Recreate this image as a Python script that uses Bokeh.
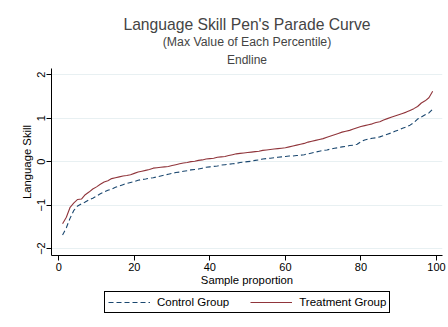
from bokeh.plotting import figure
from bokeh.layouts import column
from bokeh.models import (Title, Legend, LegendItem, FixedTicker, Range1d)
from bokeh.embed import file_html
from bokeh.resources import INLINE

# ---- data ----
percentile = list(range(1, 100))

control = [-1.69, -1.52, -1.30, -1.12, -1.02, -0.97, -0.93, -0.88, -0.84, -0.79,
           -0.74, -0.70, -0.66, -0.63, -0.59, -0.56, -0.53, -0.50, -0.48, -0.46,
           -0.43, -0.41, -0.40, -0.38, -0.37, -0.35, -0.33, -0.31, -0.29, -0.27,
           -0.25, -0.24, -0.22, -0.21, -0.19, -0.18, -0.17, -0.15, -0.13, -0.12,
           -0.11, -0.10, -0.08, -0.07, -0.06, -0.05, -0.04, -0.02, -0.01, 0.00,
           0.01, 0.03, 0.04, 0.06, 0.07, 0.08, 0.09, 0.10, 0.11, 0.12,
           0.13, 0.13, 0.14, 0.15, 0.16, 0.18, 0.20, 0.22, 0.24, 0.26,
           0.27, 0.29, 0.31, 0.32, 0.34, 0.35, 0.37, 0.38, 0.40, 0.46,
           0.50, 0.52, 0.54, 0.55, 0.57, 0.60, 0.63, 0.66, 0.70, 0.73,
           0.77, 0.80, 0.84, 0.90, 0.98, 1.03, 1.08, 1.12, 1.21]

treatment = [-1.43, -1.28, -1.05, -0.95, -0.87, -0.86, -0.76, -0.70, -0.63, -0.58,
             -0.52, -0.47, -0.44, -0.39, -0.37, -0.35, -0.33, -0.32, -0.30, -0.27,
             -0.24, -0.22, -0.20, -0.18, -0.15, -0.14, -0.13, -0.12, -0.11, -0.09,
             -0.07, -0.05, -0.03, -0.02, 0.00, 0.01, 0.03, 0.04, 0.06, 0.07,
             0.08, 0.10, 0.11, 0.12, 0.14, 0.16, 0.18, 0.19, 0.20, 0.21,
             0.22, 0.23, 0.24, 0.26, 0.27, 0.28, 0.29, 0.30, 0.31, 0.32,
             0.34, 0.36, 0.38, 0.40, 0.42, 0.45, 0.47, 0.49, 0.51, 0.53,
             0.56, 0.59, 0.62, 0.65, 0.68, 0.70, 0.72, 0.75, 0.78, 0.81,
             0.83, 0.85, 0.87, 0.90, 0.92, 0.96, 0.99, 1.02, 1.05, 1.08,
             1.11, 1.14, 1.18, 1.22, 1.27, 1.35, 1.40, 1.47, 1.62]

x_ticks = [0, 20, 40, 60, 80, 100]
y_ticks = [-2, -1, 0, 1, 2]

title_main = "Language Skill Pen's Parade Curve"
title_sub = "(Max Value of Each Percentile)"
title_note = "Endline"
x_label = "Sample proportion"
y_label = "Language Skill"
series_names = ["Control Group", "Treatment Group"]

FONT = "Liberation Sans"
NAVY = "#1a476f"
CRAN = "#90353b"
DASH = "5 3"

# ---------------- main plot ----------------
p = figure(width=448, height=288, output_backend="svg", toolbar_location=None,
           x_range=Range1d(-1.93, 101.6), y_range=Range1d(-2.16, 2.144),
           min_border_left=51, min_border_right=6, min_border_top=68,
           min_border_bottom=32)
p.title = None
p.outline_line_color = None
p.background_fill_color = "white"
p.border_fill_color = "white"

p.line(percentile, control, line_color=NAVY, line_width=1.1, line_dash=DASH)
p.line(percentile, treatment, line_color=CRAN, line_width=1.1)

for ax in (p.xaxis[0], p.yaxis[0]):
    ax.axis_line_color = "black"
    ax.axis_line_width = 1
    ax.major_tick_line_color = "black"
    ax.major_tick_out = 5
    ax.major_tick_in = 0
    ax.minor_tick_line_color = None
    ax.major_label_text_font = FONT
    ax.major_label_text_font_size = "11px"
    ax.major_label_text_color = "black"
    ax.axis_label_text_font = FONT
    ax.axis_label_text_font_size = "11.3px"
    ax.axis_label_text_font_style = "normal"
    ax.axis_label_text_color = "black"

p.xaxis.ticker = FixedTicker(ticks=x_ticks)
p.yaxis.ticker = FixedTicker(ticks=y_ticks)
p.xaxis.axis_label = x_label
p.yaxis.axis_label = y_label
p.xaxis.major_label_standoff = 2
p.xaxis.axis_label_standoff = 0
p.yaxis.major_label_orientation = "vertical"
p.yaxis.major_label_standoff = 1
p.yaxis.axis_label_standoff = 2

p.xgrid.grid_line_color = None
p.ygrid.grid_line_color = "#e8f0f2"
p.ygrid.grid_line_width = 1

# titles (first added is closest to the plot)
p.add_layout(Title(text=title_note, align="center", text_font=FONT,
                   text_font_size="12px", text_font_style="normal",
                   standoff=4, offset=0), "above")
p.add_layout(Title(text=title_sub, align="center", text_font=FONT,
                   text_font_size="12.3px", text_font_style="normal",
                   standoff=-1, offset=0), "above")
p.add_layout(Title(text=title_main, align="center", text_font=FONT,
                   text_font_size="15.7px", text_font_style="normal",
                   standoff=1, offset=0), "above")

# ---------------- legend strip (frame aligned with the plot frame) ----------------
lg = figure(width=448, height=39, output_backend="svg", toolbar_location=None,
            x_axis_location=None, y_axis_location=None,
            x_range=Range1d(0, 1), y_range=Range1d(10, 11),
            min_border_left=0, min_border_right=0, min_border_top=0,
            min_border_bottom=0)
lg.outline_line_color = None
lg.xgrid.grid_line_color = None
lg.ygrid.grid_line_color = None
# same series, kept outside this strip's visible range; only their legend keys show
lc = lg.line(percentile, control, line_color=NAVY, line_width=1.1, line_dash=DASH)
lt = lg.line(percentile, treatment, line_color=CRAN, line_width=1.1)

legend = Legend(items=[LegendItem(label=series_names[0], renderers=[lc]),
                       LegendItem(label=series_names[1], renderers=[lt])],
                orientation="horizontal", location=(53, 14))
legend.border_line_color = "black"
legend.border_line_alpha = 1.0
legend.border_line_width = 1
legend.background_fill_color = "white"
legend.label_text_font = FONT
legend.label_text_font_size = "11.5px"
legend.label_text_color = "black"
legend.glyph_width = 42
legend.glyph_height = 14
legend.label_height = 14
legend.label_standoff = 7
legend.spacing = 21
legend.padding = 3
legend.margin = 0
lg.add_layout(legend, "center")

layout = column(p, lg, spacing=0)
open("out.html", "w").write(file_html(layout, INLINE))
